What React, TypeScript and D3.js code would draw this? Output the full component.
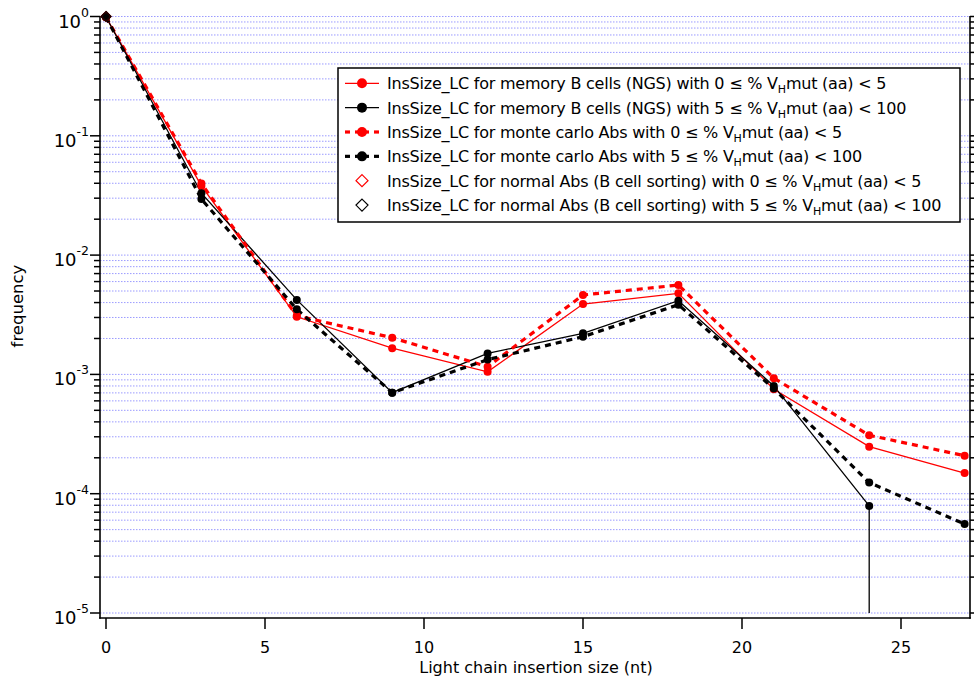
import React from "react";
import * as d3 from "d3";

const xs = [0, 3, 6, 9, 12, 15, 18, 21, 24, 27];
const memLow = [0.99, 0.038, 0.00304, 0.00166, 0.00105, 0.00389, 0.00478, 0.00075, 0.000248, 0.000149];
const memHigh = [0.99, 0.033, 0.00421, 0.000703, 0.0015, 0.00221, 0.00415, 0.0008, 0.000079, 0];
const mcLow = [0.99, 0.0398, 0.0031, 0.00203, 0.00116, 0.00463, 0.00561, 0.00093, 0.000309, 0.000208];
const mcHigh = [0.99, 0.0295, 0.00351, 0.000703, 0.00133, 0.00207, 0.00384, 0.00076, 0.000124, 0.0000557];
const normXs = [0];
const normLow = [1.0];
const normHigh = [1.0];

const xTicks = [0, 5, 10, 15, 20, 25];
const yDecades = [0, -1, -2, -3, -4, -5];

const legendLabels = [
  "InsSize_LC for memory B cells (NGS) with 0 ≤ % V|H|mut (aa) < 5",
  "InsSize_LC for memory B cells (NGS) with 5 ≤ % V|H|mut (aa) < 100",
  "InsSize_LC for monte carlo Abs with 0 ≤ % V|H|mut (aa) < 5",
  "InsSize_LC for monte carlo Abs with 5 ≤ % V|H|mut (aa) < 100",
  "InsSize_LC for normal Abs (B cell sorting) with 0 ≤ % V|H|mut (aa) < 5",
  "InsSize_LC for normal Abs (B cell sorting) with 5 ≤ % V|H|mut (aa) < 100",
];

const FONT = "DejaVu Sans";

export default function App() {
  const W = 974, H = 687;
  const left = 100, right = 970, top = 16.5, bottom = 618;
  const x = d3.scaleLinear().domain([0, 27]).range([106, 964.6]);
  const y = d3.scaleLog().domain([1e-5, 1]).range([613, 16.5]);

  const grid: number[] = [];
  for (let k = -5; k < 0; k++) for (let m = 1; m < 10; m++) grid.push(m * Math.pow(10, k));
  grid.push(1);

  const line = d3
    .line<[number, number]>()
    .defined((d) => d[1] > 0)
    .x((d) => x(d[0]))
    .y((d) => y(d[1]));

  const series = [
    { vals: memLow, color: "#ff0000", dash: null, w: 1.3 },
    { vals: memHigh, color: "#000000", dash: null, w: 1.3 },
    { vals: mcLow, color: "#ff0000", dash: "6,5", w: 3.2 },
    { vals: mcHigh, color: "#000000", dash: "6,5", w: 3.2 },
  ];

  const dropSeg = (vals: number[], color: string, w: number, dash: string | null, key: string) => {
    const segs: JSX.Element[] = [];
    for (let i = 1; i < vals.length; i++) {
      if (vals[i] <= 0 && vals[i - 1] > 0) {
        segs.push(
          <line key={key + i} x1={x(xs[i - 1])} x2={x(xs[i - 1])} y1={y(vals[i - 1])} y2={y(1e-5)}
            stroke={color} strokeWidth={w} strokeDasharray={dash || undefined} />
        );
      }
    }
    return segs;
  };

  const diamond = (cx: number, cy: number, r: number) =>
    `M${cx},${cy - r}L${cx + r},${cy}L${cx},${cy + r}L${cx - r},${cy}Z`;

  const renderLabel = (s: string) => {
    const parts = s.split("|");
    return [
      <tspan key="a">{parts[0]}</tspan>,
      <tspan key="b" fontSize={11} dy={4}>{parts[1]}</tspan>,
      <tspan key="c" dy={-4}>{parts[2]}</tspan>,
    ];
  };

  const legX = 338, legY = 68, legW = 622, legH = 154;
  const rowY = (i: number) => 83.3 + i * 24.35;

  return (
    <svg width={W} height={H} style={{ position: "absolute", left: 0, top: 0, background: "#fff" }}
      fontFamily={FONT}>
      <rect x={0} y={0} width={W} height={H} fill="#fff" />
      {/* grid */}
      {grid.map((g, i) => (
        <line key={"g" + i} x1={left} x2={right} y1={y(g)} y2={y(g)} stroke="#7070ff"
          strokeOpacity={0.7} strokeWidth={1} strokeDasharray="1.5,1.5" />
      ))}
      {/* axes */}
      <line x1={left} x2={left} y1={top - 0.5} y2={bottom + 0.8} stroke="#000" strokeWidth={1.6} />
      <line x1={left - 0.8} x2={right + 0.8} y1={bottom} y2={bottom} stroke="#000" strokeWidth={1.6} />
      <line x1={right} x2={right} y1={top - 0.5} y2={bottom + 0.8} stroke="#000" strokeWidth={1.6} />
      {grid.map((g, i) => {
        const major = Math.abs(Math.log10(g) - Math.round(Math.log10(g))) < 1e-9;
        const len = major ? 10 : 6;
        return (
          <g key={"t" + i}>
            <line x1={left - len} x2={left} y1={y(g)} y2={y(g)} stroke="#000" strokeWidth={1.5} />
            <line x1={right} x2={right + len} y1={y(g)} y2={y(g)} stroke="#000" strokeWidth={1.5} />
          </g>
        );
      })}
      {yDecades.map((k) => (
        <text key={"yl" + k} x={89} y={y(Math.pow(10, k)) + 11} textAnchor="end" fontSize={18} fill="#000">
          <tspan>10</tspan>
          <tspan fontSize={12.5} dy={-11}>{String(k)}</tspan>
        </text>
      ))}
      {xTicks.map((t) => (
        <g key={"xt" + t}>
          <line x1={x(t)} x2={x(t)} y1={bottom} y2={bottom + 11} stroke="#000" strokeWidth={1.5} />
          <text x={x(t)} y={653} textAnchor="middle" fontSize={16} fill="#000">{t}</text>
        </g>
      ))}
      <text x={536} y={673} textAnchor="middle" fontSize={16} fill="#000">Light chain insertion size (nt)</text>
      <text transform={`translate(23,306) rotate(-90)`} textAnchor="middle" fontSize={16.5} fill="#000">frequency</text>

      {/* series lines */}
      {series.map((s, i) => (
        <g key={"s" + i}>
          <path d={line(xs.map((v, j) => [v, s.vals[j]] as [number, number])) || ""} fill="none"
            stroke={s.color} strokeWidth={s.w} strokeDasharray={s.dash || undefined} />
          {dropSeg(s.vals, s.color, s.w, s.dash, "d" + i)}
        </g>
      ))}
      {series.map((s, i) => (
        <g key={"m" + i}>
          {xs.map((v, j) =>
            s.vals[j] > 0 ? <circle key={j} cx={x(v)} cy={y(s.vals[j])} r={4} fill={s.color} /> : null
          )}
        </g>
      ))}
      {normXs.map((v, j) => (
        <g key={"n" + j}>
          <path d={diamond(x(v), y(normLow[j]), 5)} fill="none" stroke="#ff0000" strokeWidth={1.2} />
          <path d={diamond(x(v), y(normHigh[j]), 5)} fill="none" stroke="#000" strokeWidth={1.2} />
        </g>
      ))}

      {/* legend */}
      <rect x={legX} y={legY} width={legW} height={legH} fill="#fff" stroke="#000" strokeWidth={1.5} />
      {legendLabels.map((lab, i) => {
        const cy = rowY(i);
        let sym: JSX.Element;
        if (i < 2) {
          const c = i === 0 ? "#ff0000" : "#000";
          sym = (
            <g>
              <line x1={345} x2={379} y1={cy} y2={cy} stroke={c} strokeWidth={1.3} />
              <circle cx={362} cy={cy} r={5} fill={c} />
            </g>
          );
        } else if (i < 4) {
          const c = i === 2 ? "#ff0000" : "#000";
          sym = (
            <g>
              <line x1={345} x2={350} y1={cy} y2={cy} stroke={c} strokeWidth={3.2} />
              <line x1={355} x2={369} y1={cy} y2={cy} stroke={c} strokeWidth={3.2} />
              <line x1={374} x2={379} y1={cy} y2={cy} stroke={c} strokeWidth={3.2} />
              <circle cx={362} cy={cy} r={5} fill={c} />
            </g>
          );
        } else {
          const c = i === 4 ? "#ff0000" : "#000";
          sym = <path d={diamond(362, cy, 6)} fill="#fff" stroke={c} strokeWidth={1.2} />;
        }
        return (
          <g key={"l" + i}>
            {sym}
            <text x={387} y={cy + 6} fontSize={16} letterSpacing={-0.22} fill="#000">{renderLabel(lab)}</text>
          </g>
        );
      })}
    </svg>
  );
}
